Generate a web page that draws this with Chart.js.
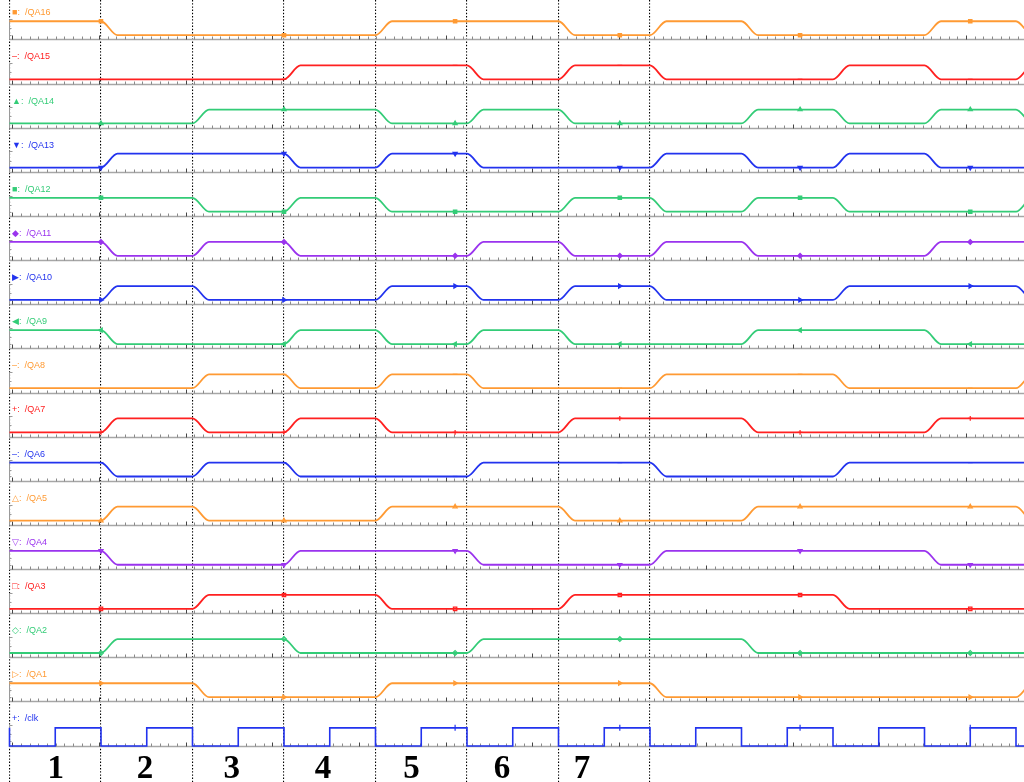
<!DOCTYPE html>
<html>
<head>
<meta charset="utf-8">
<style>
  html, body { margin: 0; padding: 0; background: #fff; }
  canvas { display: block; }
</style>
<script src="https://cdn.jsdelivr.net/npm/chart.js@4.4.1/dist/chart.umd.min.js"></script>
</head>
<body>
<canvas id="wave" width="1024" height="782"></canvas>
<script>
// register levels, one value per clock cycle (cycle n = between falling edges n and n+1)
const qa16 = [1,0,0,0,1,1,0,1,0,0,1,0];
const qa15 = [0,0,0,1,1,0,1,0,0,1,0,1];
const qa14 = [0,0,1,1,0,1,0,0,1,0,1,0];
const qa13 = [0,1,1,0,1,0,0,1,0,1,0,0];
const qa12 = [1,1,0,1,0,0,1,0,1,0,0,1];
const qa11 = [1,0,1,0,0,1,0,1,0,0,1,1];
const qa10 = [0,1,0,0,1,0,1,0,0,1,1,0];
const qa9  = [1,0,0,1,0,1,0,0,1,1,0,0];
const qa8  = [0,0,1,0,1,0,0,1,1,0,0,1];
const qa7  = [0,1,0,1,0,0,1,1,0,0,1,1];
const qa6  = [1,0,1,0,0,1,1,0,0,1,1,1];
const qa5  = [0,1,0,0,1,1,0,0,1,1,1,0];
const qa4  = [1,0,0,1,1,0,0,1,1,1,0,0];
const qa3  = [0,0,1,1,0,0,1,1,1,0,0,0];
const qa2  = [0,1,1,0,0,1,1,1,0,0,0,0];
const qa1  = [1,1,0,0,1,1,1,0,0,0,0,1];

// clock, one value per half period starting at t = -0.5
const clk = [1,0,1,0,1,0,1,0,1,0,1,0,1,0,1,0,1,0,1,0,1,0,1,0,1];

const signalNames = ['/QA16','/QA15','/QA14','/QA13','/QA12','/QA11','/QA10','/QA9',
                     '/QA8','/QA7','/QA6','/QA5','/QA4','/QA3','/QA2','/QA1','/clk'];
const cycleLabels = ['1','2','3','4','5','6','7'];
const dividers = [0,1,2,3,4,5,6,7];
const markerTimes = [1.0, 3.0, 4.87, 6.67, 8.64, 10.5];
const clkMarkerTimes = [4.87, 6.67, 8.64, 10.5];

// layout
const X_MIN = -0.1038, X_MAX = 11.0874;
const Y_ROWS = 17.72;
const RISE = 0.18;
const HIGH_OFF = 0.482, LOW_OFF = 0.797, BASE_OFF = 0.895, LABEL_OFF = 0.29;
const CLK_HIGH_OFF = 0.493, CLK_LOW_OFF = 0.905;
const TICK_START = 0.0306, TICK_STEP = 0.09475;
const labelX = [0.505, 1.481, 2.428, 3.426, 4.393, 5.383, 6.257];

const ORANGE = '#ff9a33', RED = '#ff2020', GREEN = '#33cc77', BLUE = '#2233ee', PURPLE = '#9a33ee';

const rows = [
  {bits: qa16, color: ORANGE, sym: '\u25a0', style: 'rect',     rot: 0,   fill: true},
  {bits: qa15, color: RED,    sym: '\u2013', style: 'line',     rot: 0,   fill: true},
  {bits: qa14, color: GREEN,  sym: '\u25b2', style: 'triangle', rot: 0,   fill: true},
  {bits: qa13, color: BLUE,   sym: '\u25bc', style: 'triangle', rot: 180, fill: true},
  {bits: qa12, color: GREEN,  sym: '\u25a0', style: 'rect',     rot: 0,   fill: true},
  {bits: qa11, color: PURPLE, sym: '\u25c6', style: 'rectRot',  rot: 0,   fill: true},
  {bits: qa10, color: BLUE,   sym: '\u25b6', style: 'triangle', rot: 90,  fill: true},
  {bits: qa9,  color: GREEN,  sym: '\u25c0', style: 'triangle', rot: 270, fill: true},
  {bits: qa8,  color: ORANGE, sym: '\u2013', style: 'line',     rot: 0,   fill: true},
  {bits: qa7,  color: RED,    sym: '+',      style: 'cross',    rot: 0,   fill: true},
  {bits: qa6,  color: BLUE,   sym: '\u2013', style: 'line',     rot: 0,   fill: true},
  {bits: qa5,  color: ORANGE, sym: '\u25b3', style: 'triangle', rot: 0,   fill: false},
  {bits: qa4,  color: PURPLE, sym: '\u25bd', style: 'triangle', rot: 180, fill: false},
  {bits: qa3,  color: RED,    sym: '\u25a1', style: 'rect',     rot: 0,   fill: false},
  {bits: qa2,  color: GREEN,  sym: '\u25c7', style: 'rectRot',  rot: 0,   fill: false},
  {bits: qa1,  color: ORANGE, sym: '\u25b7', style: 'triangle', rot: 90,  fill: false}
];
const CLK_ROW = rows.length;

function levelY(row, bit) {
  return row + (bit ? HIGH_OFF : LOW_OFF);
}

// traces start at the left axis (t = 0)
function tracePoints(bits, row) {
  const pts = [{x: 0, y: levelY(row, bits[0])}];
  for (let n = 1; n < bits.length; n++) {
    pts.push({x: n, y: levelY(row, bits[n - 1])});
    pts.push({x: n + RISE, y: levelY(row, bits[n])});
  }
  pts.push({x: X_MAX, y: levelY(row, bits[bits.length - 1])});
  return pts;
}

const datasets = [];
rows.forEach((r, k) => {
  datasets.push({
    type: 'line',
    data: tracePoints(r.bits, k),
    borderColor: r.color,
    borderWidth: 1.8,
    pointRadius: 0,
    cubicInterpolationMode: 'monotone',
    fill: false
  });
  datasets.push({
    type: 'scatter',
    data: markerTimes.map(t => ({x: t, y: levelY(k, r.bits[Math.ceil(t) - 1])})),
    pointStyle: r.style,
    pointRotation: r.rot,
    pointRadius: 2.4,
    borderWidth: 1.2,
    borderColor: r.color,
    backgroundColor: r.fill ? r.color : 'rgba(255,255,255,0)',
    showLine: false
  });
});

const clkLevel = v => CLK_ROW + (v ? CLK_HIGH_OFF : CLK_LOW_OFF);
const clkPoints = clk.map((v, i) => ({x: Math.max(0, -0.5 + 0.5 * i), y: clkLevel(v)}));
clkPoints.push({x: X_MAX, y: clkLevel(clk[clk.length - 1])});
datasets.push({
  type: 'line',
  data: clkPoints,
  borderColor: BLUE,
  borderWidth: 1.6,
  pointRadius: 0,
  stepped: true,
  fill: false
});
datasets.push({
  type: 'scatter',
  data: clkMarkerTimes.map(t => ({x: t, y: clkLevel(clk[Math.floor((t + 0.5) / 0.5)])})),
  pointStyle: 'line',
  pointRotation: 90,
  pointRadius: 3,
  borderWidth: 1.2,
  borderColor: BLUE,
  showLine: false
});

const rowDecor = {
  id: 'rowDecor',
  beforeDatasetsDraw(chart) {
    const {ctx, chartArea} = chart;
    const x = chart.scales.x, y = chart.scales.y;
    const x0 = Math.round(x.getPixelForValue(0)) + 0.5;
    ctx.save();
    for (let k = 0; k <= CLK_ROW; k++) {
      const yb = Math.round(y.getPixelForValue(k + BASE_OFF)) + 0.5;
      ctx.strokeStyle = '#a6a6a6';
      ctx.lineWidth = 1.6;
      ctx.beginPath(); ctx.moveTo(x0, yb); ctx.lineTo(chartArea.right, yb); ctx.stroke();
      ctx.lineWidth = 1;
      for (let i = 0; ; i++) {
        const t = TICK_START + i * TICK_STEP;
        if (t > X_MAX) break;
        const px = Math.round(x.getPixelForValue(t)) + 0.5;
        const major = i % 10 === 0;
        ctx.strokeStyle = major ? '#444' : '#8a8a8a';
        ctx.beginPath(); ctx.moveTo(px, yb); ctx.lineTo(px, yb - (major ? 4 : 3)); ctx.stroke();
      }
      // little left axis of every row
      const yt = Math.round(y.getPixelForValue(k + HIGH_OFF - 0.05)) + 0.5;
      const ym = Math.round(y.getPixelForValue(k + (HIGH_OFF + LOW_OFF) / 2)) + 0.5;
      const yl = Math.round(y.getPixelForValue(k + LOW_OFF)) + 0.5;
      ctx.strokeStyle = '#9a9a9a';
      ctx.beginPath();
      ctx.moveTo(x0, yt); ctx.lineTo(x0, yb);
      ctx.moveTo(x0, yt); ctx.lineTo(x0 + 3, yt);
      ctx.moveTo(x0, ym); ctx.lineTo(x0 + 2, ym);
      ctx.moveTo(x0, yl); ctx.lineTo(x0 + 2, yl);
      ctx.stroke();
    }
    ctx.restore();
  },
  afterDraw(chart) {
    const {ctx} = chart;
    const x = chart.scales.x, y = chart.scales.y;
    ctx.save();
    ctx.font = '9px "Liberation Sans", Arial, sans-serif';
    ctx.textBaseline = 'middle';
    ctx.textAlign = 'left';
    for (let k = 0; k <= CLK_ROW; k++) {
      const r = rows[k];
      const sym = r ? r.sym : '+';
      ctx.fillStyle = r ? r.color : BLUE;
      const py = y.getPixelForValue(k + LABEL_OFF);
      ctx.fillText(sym + ':  ' + signalNames[k], 12, py);
    }
    ctx.font = 'bold 33px "Liberation Serif", "Times New Roman", serif';
    ctx.fillStyle = '#000';
    ctx.textAlign = 'center';
    ctx.textBaseline = 'alphabetic';
    cycleLabels.forEach((lab, i) => {
      ctx.fillText(lab, x.getPixelForValue(labelX[i]), 778);
    });
    ctx.restore();
  }
};

new Chart(document.getElementById('wave'), {
  type: 'line',
  data: {datasets: datasets},
  options: {
    responsive: false,
    animation: false,
    events: [],
    layout: {padding: 0, autoPadding: false},
    plugins: {legend: {display: false}, tooltip: {enabled: false}},
    scales: {
      x: {
        type: 'linear',
        min: X_MIN,
        max: X_MAX,
        afterBuildTicks: s => { s.ticks = dividers.map(v => ({value: v})); },
        ticks: {display: false},
        grid: {color: '#000', lineWidth: 1.1, drawTicks: false},
        border: {display: false, dash: [1.4, 1.8]}
      },
      y: {type: 'linear', min: 0, max: Y_ROWS, reverse: true, display: false}
    }
  },
  plugins: [rowDecor]
});
</script>
</body>
</html>
